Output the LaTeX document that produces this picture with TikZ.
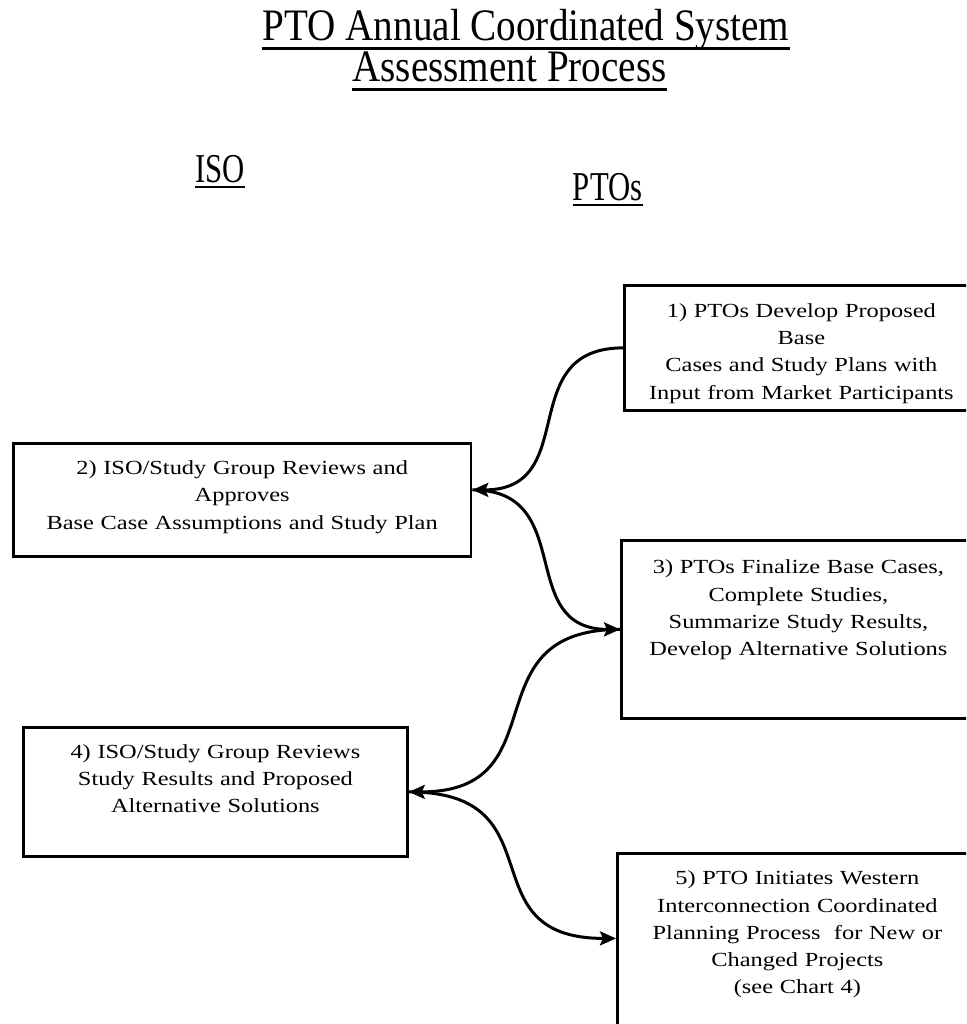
\documentclass[tikz,border=0pt]{standalone}
\usepackage{fontspec}
\setmainfont{Liberation Serif}
\newfontfamily\titlefont[FakeStretch=0.87]{Liberation Serif}
\newfontfamily\headfont[FakeStretch=0.75]{Liberation Serif}
\newfontfamily\boxfont[FakeStretch=1.22]{Liberation Serif}
\usetikzlibrary{arrows.meta}

\tikzset{
  stepbox/.style={draw=black, line width=2.8pt, inner sep=0pt, align=center,
    anchor=north west, font=\boxfont\fontsize{20}{27.3}\selectfont},
  titletext/.style={inner sep=0pt, anchor=base, text height=31pt, text depth=8pt,
    font=\titlefont\fontsize{45}{50}\selectfont},
  headtext/.style={inner sep=0pt, anchor=base, font=\headfont\fontsize{41}{45}\selectfont},
  uline/.style={line width=2.6pt},
  flow/.style={line width=3pt, -{Stealth[length=16pt,width=14pt,inset=3pt]}}
}

\begin{document}
\begin{tikzpicture}[x=1pt,y=-1pt]
  % page frame
  \fill[white] (0,0) rectangle (966,1024);
  \clip (0,0) rectangle (966,1024);

  % headings
  \node[titletext] (title1) at (526,40.7) {PTO Annual Coordinated System};
  \node[titletext] (title2) at (509.5,81.7) {Assessment Process};
  \draw[uline] ([yshift=-7.6pt]title1.base west) -- ([yshift=-7.6pt]title1.base east);
  \draw[uline] ([yshift=-7.6pt]title2.base west) -- ([yshift=-7.6pt]title2.base east);

  \node[headtext] (iso) at (220,183) {ISO};
  \node[headtext] (ptos) at (607.7,200.7) {PTOs};
  \draw[line width=2.2pt] ([yshift=-4.3pt]iso.base west) -- ([yshift=-4.3pt]iso.base east);
  \draw[line width=2.2pt] ([yshift=-4.3pt]ptos.base west) -- ([yshift=-4.3pt]ptos.base east);

  % process steps
  \node[stepbox, text width=354pt, text height=31.7pt, text depth=93.3pt] (b1) at (623,284)
    {1) PTOs Develop Proposed\\Base\\Cases and Study Plans with\\Input from Market Participants};
  \node[stepbox, text width=457.5pt, text height=31pt, text depth=82pt] (b2) at (12,442)
    {2) ISO/Study Group Reviews and\\Approves\\Base Case Assumptions and Study Plan};
  \node[stepbox, text width=354pt, text height=33.5pt, text depth=144.5pt] (b3) at (620,539)
    {3) PTOs Finalize Base Cases,\\Complete Studies,\\Summarize Study Results,\\Develop Alternative Solutions};
  \node[stepbox, text width=384pt, text height=30.7pt, text depth=98.3pt] (b4) at (22,726)
    {4) ISO/Study Group Reviews\\Study Results and Proposed\\Alternative Solutions};
  \node[stepbox, text width=360pt, text height=31.3pt, text depth=156.7pt] (b5) at (616,852)
    {5) PTO Initiates Western\\Interconnection Coordinated\\Planning Process\ \ for New or\\Changed Projects\\(see Chart 4)};

  % connectors
  \draw[flow] (b1.west) .. controls +(-110,0) and +(110,0) .. ([yshift=10pt]b2.east);
  \draw[flow] ([yshift=10pt]b2.east) .. controls +(106,0) and +(-106,0) .. (b3.west);
  \draw[flow] (b3.west) .. controls +(-153,0) and +(153,0) .. (b4.east);
  \draw[flow] (b4.east) .. controls +(152,0) and +(-152,0) .. ([yshift=9pt]b5.west);
\end{tikzpicture}
\end{document}
